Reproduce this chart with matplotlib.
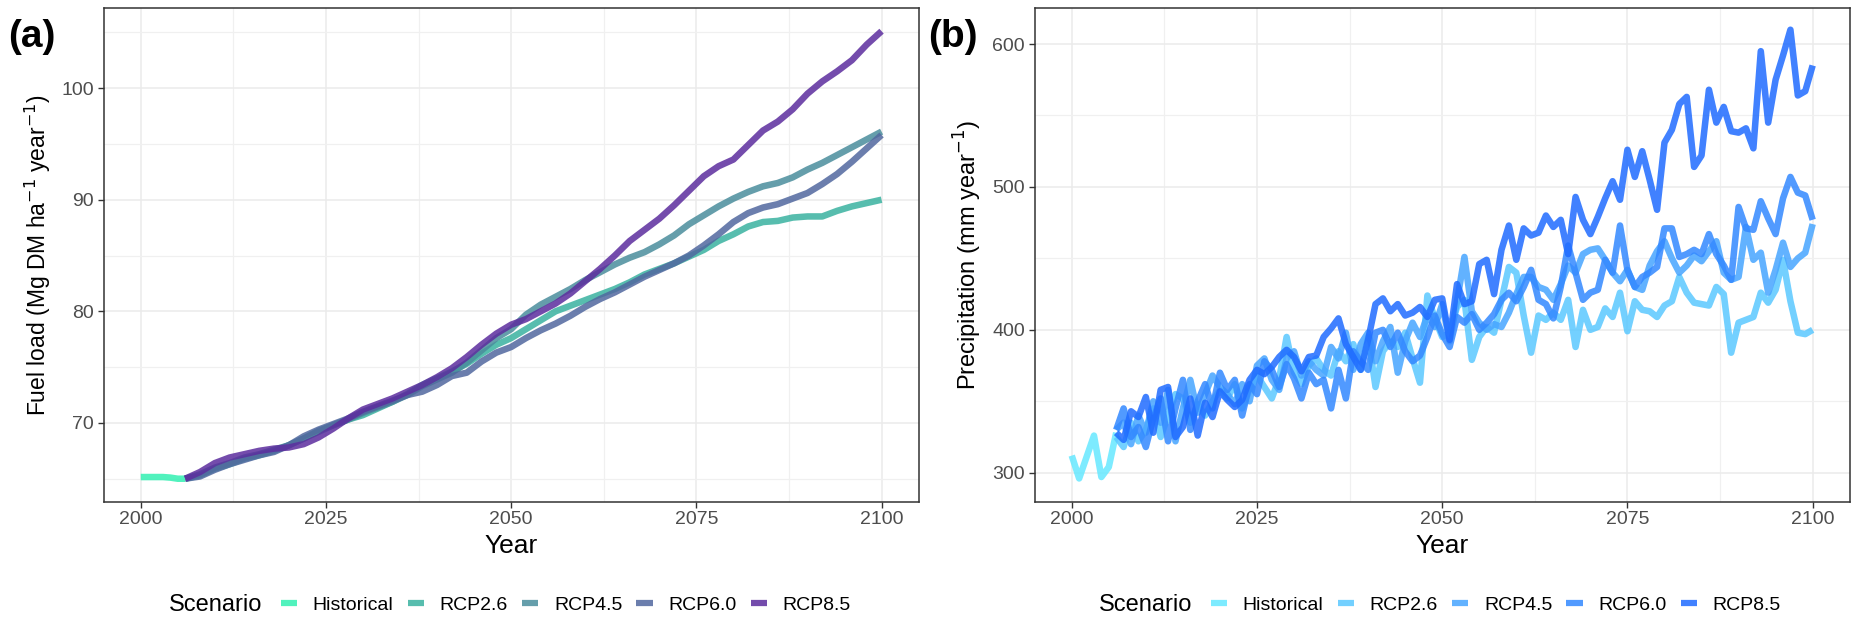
import matplotlib
matplotlib.use("Agg")
import matplotlib.pyplot as plt
from matplotlib.lines import Line2D
from matplotlib.ticker import MultipleLocator

plt.rcParams['font.family'] = ['Liberation Sans', 'DejaVu Sans']

# ---------------- data: panel (a) fuel load ----------------
scenarios = ["Historical", "RCP2.6", "RCP4.5", "RCP6.0", "RCP8.5"]
colors_a = ["#33F0B2", "#3AB2A0", "#4A8D9C", "#51689F", "#5C2D9E"]
colors_b = ["#66E8FF", "#5AC8FF", "#47A5FF", "#3388FF", "#1F6BFF"]

hist_years_a = [2000, 2001, 2002, 2003, 2004, 2005, 2006]
hist_fuel = [65.15, 65.15, 65.15, 65.15, 65.1, 65.0, 65.0]

rcp_years_a = list(range(2006, 2101, 2))
fuel_rcp26 = [65.0, 65.3, 65.9, 66.3, 66.8, 67.1, 67.5, 68.0, 68.6, 69.2, 69.8, 70.3,
              70.7, 71.3, 71.9, 72.6, 73.4, 74.0, 74.6, 75.3, 76.2, 77.0, 77.6, 78.4,
              79.2, 80.0, 80.5, 81.0, 81.5, 82.0, 82.6, 83.3, 83.8, 84.3, 84.9, 85.5,
              86.3, 86.9, 87.6, 88.0, 88.1, 88.4, 88.5, 88.5, 89.0, 89.4, 89.7, 90.0]
fuel_rcp45 = [65.0, 65.4, 66.0, 66.4, 66.9, 67.2, 67.6, 68.0, 68.6, 69.3, 69.8, 70.3,
              70.9, 71.4, 71.9, 72.5, 73.3, 73.9, 74.5, 75.4, 76.5, 77.6, 78.4, 79.7,
              80.6, 81.3, 82.0, 82.8, 83.5, 84.2, 84.8, 85.3, 86.0, 86.8, 87.8, 88.6,
              89.4, 90.1, 90.7, 91.2, 91.5, 92.0, 92.7, 93.3, 94.0, 94.7, 95.4, 96.1]
fuel_rcp60 = [65.0, 65.2, 65.8, 66.3, 66.7, 67.1, 67.4, 68.0, 68.8, 69.4, 69.9, 70.4,
              71.0, 71.5, 72.0, 72.5, 72.8, 73.4, 74.2, 74.5, 75.5, 76.3, 76.8, 77.6,
              78.3, 78.9, 79.6, 80.4, 81.1, 81.7, 82.4, 83.1, 83.7, 84.3, 85.0, 85.9,
              86.9, 88.0, 88.8, 89.3, 89.6, 90.1, 90.6, 91.4, 92.3, 93.4, 94.6, 95.8]
fuel_rcp85 = [65.0, 65.6, 66.4, 66.9, 67.2, 67.5, 67.7, 67.8, 68.1, 68.7, 69.5, 70.4,
              71.2, 71.7, 72.2, 72.8, 73.4, 74.1, 74.9, 75.9, 77.0, 78.0, 78.8, 79.3,
              80.0, 80.7, 81.6, 82.7, 83.8, 85.0, 86.3, 87.3, 88.3, 89.5, 90.8, 92.1,
              93.0, 93.6, 94.9, 96.2, 97.0, 98.1, 99.5, 100.6, 101.5, 102.5, 103.9, 105.1]

# ---------------- data: panel (b) precipitation ----------------
hist_years_b = [2000, 2001, 2002, 2003, 2004, 2005, 2006]
hist_prec = [312, 296, 311, 326, 297, 304, 328]

rcp_years_b = list(range(2006, 2101))
prec_rcp26 = [325, 318, 335, 322, 330, 345, 325, 340, 355, 352, 335, 348, 340, 350, 358,
              352, 362, 345, 358, 368, 360, 352, 366, 395, 370, 362, 375, 380, 372, 368,
              385, 378, 390, 372, 395, 360, 385, 392, 388, 398, 380, 363, 424, 408, 395,
              398, 416, 421, 379, 395, 402, 398, 421, 444, 440, 410, 384, 410, 407, 412,
              407, 421, 388, 414, 400, 402, 415, 409, 426, 399, 420, 414, 413, 409, 417,
              420, 437, 426, 419, 418, 417, 430, 425, 384, 405, 407, 409, 426, 419, 428,
              449, 420, 398, 397, 400]
prec_rcp45 = [330, 335, 320, 340, 328, 350, 335, 358, 322, 345, 365, 342, 355, 368, 360,
              355, 348, 362, 350, 375, 380, 365, 358, 380, 385, 368, 378, 372, 368, 388,
              380, 398, 372, 390, 398, 378, 392, 402, 370, 392, 405, 395, 410, 402, 418,
              392, 420, 451, 413, 405, 400, 404, 402, 412, 425, 437, 437, 430, 428, 421,
              432, 445, 440, 453, 456, 457, 449, 440, 434, 442, 430, 428, 445, 455, 462,
              450, 440, 445, 452, 448, 455, 462, 440, 435, 437, 472, 449, 454, 426, 442,
              461, 444, 450, 454, 474]
prec_rcp60 = [330, 345, 325, 332, 318, 338, 352, 322, 345, 365, 330, 350, 362, 345, 370,
              358, 365, 340, 362, 355, 378, 372, 360, 376, 366, 352, 370, 362, 365, 345,
              372, 352, 385, 378, 372, 398, 400, 388, 398, 385, 378, 382, 395, 410, 397,
              388, 409, 405, 411, 400, 405, 411, 421, 426, 420, 430, 442, 421, 418, 408,
              430, 459, 440, 421, 426, 428, 449, 440, 473, 442, 430, 437, 440, 444, 471,
              471, 451, 453, 456, 453, 467, 453, 445, 435, 486, 471, 470, 490, 478, 467,
              492, 507, 496, 494, 477]
prec_rcp85 = [328, 323, 343, 339, 353, 328, 358, 360, 325, 332, 352, 326, 349, 339, 357,
              351, 346, 351, 365, 372, 369, 374, 381, 386, 381, 371, 381, 382, 395, 401,
              408, 390, 381, 372, 393, 418, 422, 413, 418, 410, 412, 416, 409, 421, 422,
              393, 432, 418, 420, 446, 449, 425, 456, 473, 449, 471, 466, 468, 480, 472,
              477, 453, 493, 477, 467, 479, 492, 504, 491, 526, 507, 525, 505, 484, 531,
              540, 558, 563, 514, 522, 568, 545, 556, 539, 538, 541, 527, 595, 545, 575,
              592, 610, 564, 567, 585]

# ---------------- figure ----------------
W, H = 1859, 628
fig = plt.figure(figsize=(W / 100, H / 100), dpi=100)

ax_a = fig.add_axes([103.7 / W, 1 - 501.6 / H, (918.6 - 103.7) / W, (501.6 - 8.3) / H])
ax_b = fig.add_axes([1034.7 / W, 1 - 501.6 / H, (1849.7 - 1034.7) / W, (501.6 - 8.3) / H])

LW = 4.7
ALPHA = 0.85

series_a = [(hist_years_a, hist_fuel), (rcp_years_a, fuel_rcp26), (rcp_years_a, fuel_rcp45),
            (rcp_years_a, fuel_rcp60), (rcp_years_a, fuel_rcp85)]
series_b = [(hist_years_b, hist_prec), (rcp_years_b, prec_rcp26), (rcp_years_b, prec_rcp45),
            (rcp_years_b, prec_rcp60), (rcp_years_b, prec_rcp85)]

for (x, y), c in zip(series_a, colors_a):
    ax_a.plot(x, y, color=c, lw=LW, alpha=ALPHA, solid_capstyle='butt', solid_joinstyle='round')
for (x, y), c in zip(series_b, colors_b):
    ax_b.plot(x, y, color=c, lw=LW, alpha=ALPHA, solid_capstyle='butt', solid_joinstyle='round')

ax_a.set_xlim(1995, 2105)
ax_a.set_ylim(62.95, 107.15)
ax_b.set_xlim(1995, 2105)
ax_b.set_ylim(279.8, 625)

ax_a.set_xticks([2000, 2025, 2050, 2075, 2100])
ax_a.set_yticks([70, 80, 90, 100])
ax_a.yaxis.set_minor_locator(MultipleLocator(5))
ax_b.set_xticks([2000, 2025, 2050, 2075, 2100])
ax_b.set_yticks([300, 400, 500, 600])
ax_b.yaxis.set_minor_locator(MultipleLocator(50))
for ax in (ax_a, ax_b):
    ax.xaxis.set_minor_locator(MultipleLocator(12.5))
    ax.grid(which='major', color='#EBEBEB', lw=1.1, zorder=0)
    ax.grid(which='minor', color='#F0F0F0', lw=0.9, zorder=0)
    ax.set_axisbelow(True)
    for s in ax.spines.values():
        s.set_color('#333333')
        s.set_linewidth(1.1)
    ax.tick_params(which='major', length=4, width=1.0, color='#333333',
                   labelsize=14, labelcolor='#4D4D4D', pad=3)
    ax.tick_params(which='minor', length=0)
    ax.set_xlabel('Year', fontsize=19, labelpad=4)

ax_a.set_ylabel('Fuel load (Mg DM ha$^{-1}$ year$^{-1}$)', fontsize=16.5, labelpad=6)
ax_b.set_ylabel('Precipitation (mm year$^{-1}$)', fontsize=17, labelpad=6)

fig.text(8 / W, 1 - 37 / H, '(a)', fontsize=28, fontweight='bold', va='center', ha='left')
fig.text(928 / W, 1 - 37 / H, '(b)', fontsize=28, fontweight='bold', va='center', ha='left')

# ---------------- legends ----------------
leg_y = 1 - 605 / H
for cols, title_x in ((colors_a, 169), (colors_b, 1099)):
    fig.text(title_x / W, leg_y, 'Scenario', fontsize=17, va='center', ha='left')
    handles = [Line2D([0], [0], color=c, lw=4.5, alpha=ALPHA, solid_capstyle='butt') for c in cols]
    fig.legend(handles, scenarios, loc='center left',
               bbox_to_anchor=((title_x + 104) / W, leg_y), ncol=5, frameon=False,
               fontsize=14, handlelength=0.85, handletextpad=0.8, columnspacing=0.72,
               borderaxespad=0, borderpad=0.4)

fig.savefig('out.png', dpi=100, facecolor='white')
